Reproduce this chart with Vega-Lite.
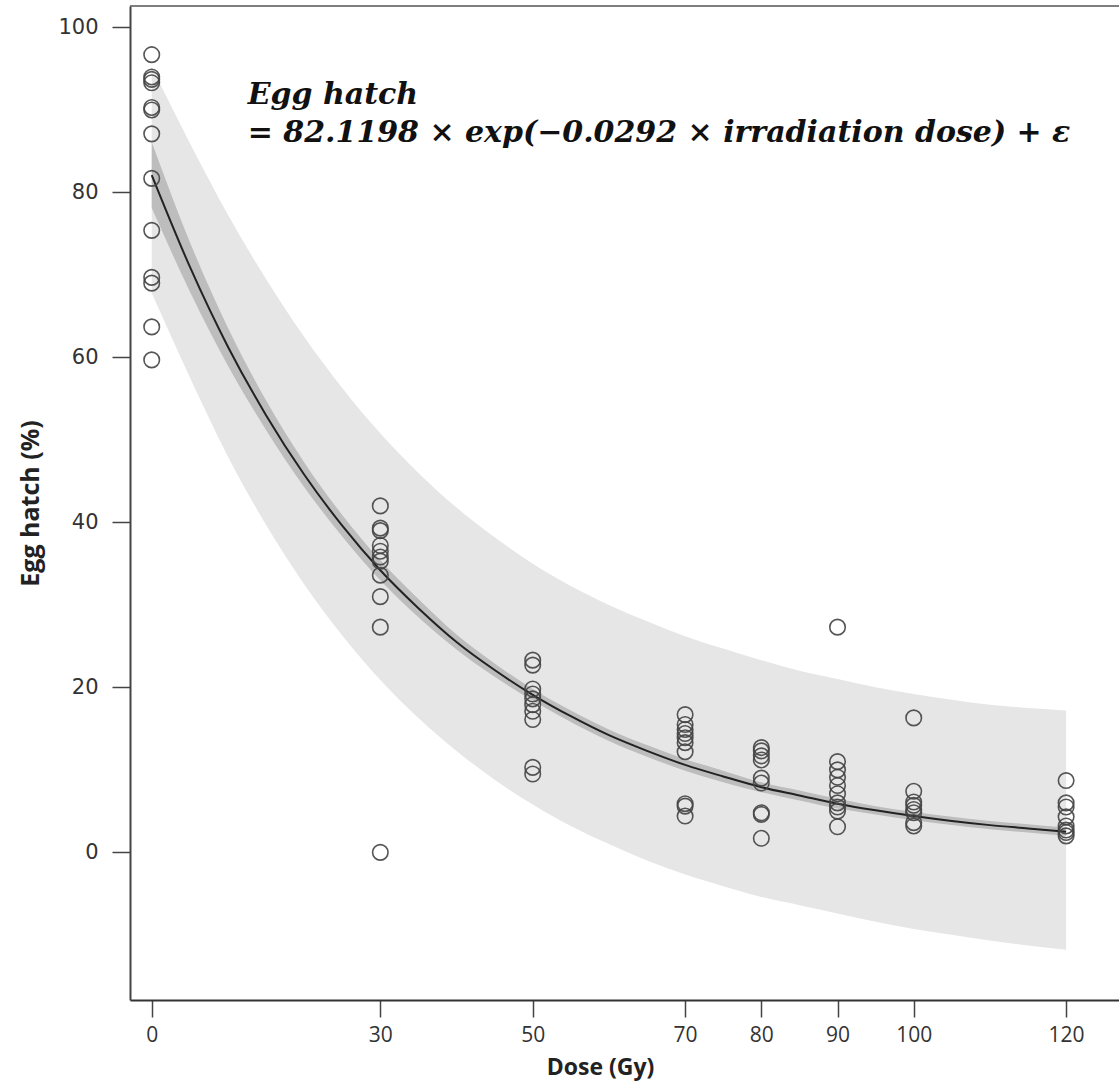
{
  "$schema": "https://vega.github.io/schema/vega-lite/v6.json",
  "width": 989,
  "height": 994,
  "autosize": {"type": "none"},
  "padding": {"left": 130, "top": 6, "right": 0, "bottom": 89},
  "background": "white",
  "config": {"view": {"stroke": null}},
  "datasets": {
    "curve": [
      {"dose": 0, "fit": 82.1, "plo": 67.8, "phi": 95.2, "clo": 78.1, "chi": 86.1},
      {"dose": 5, "fit": 71.0, "plo": 57.6, "phi": 86.0, "clo": 68.0, "chi": 74.0},
      {"dose": 10, "fit": 61.3, "plo": 48.0, "phi": 77.3, "clo": 59.0, "chi": 63.6},
      {"dose": 15, "fit": 53.0, "plo": 39.7, "phi": 69.5, "clo": 51.2, "chi": 54.8},
      {"dose": 20, "fit": 45.8, "plo": 32.5, "phi": 62.5, "clo": 44.3, "chi": 47.3},
      {"dose": 25, "fit": 39.6, "plo": 26.3, "phi": 56.3, "clo": 38.3, "chi": 40.9},
      {"dose": 30, "fit": 34.2, "plo": 20.9, "phi": 50.8, "clo": 33.0, "chi": 35.4},
      {"dose": 35, "fit": 29.6, "plo": 16.3, "phi": 46.0, "clo": 28.5, "chi": 30.7},
      {"dose": 40, "fit": 25.5, "plo": 12.3, "phi": 41.8, "clo": 24.6, "chi": 26.4},
      {"dose": 45, "fit": 22.1, "plo": 8.8, "phi": 38.2, "clo": 21.3, "chi": 22.9},
      {"dose": 50, "fit": 19.1, "plo": 5.8, "phi": 35.0, "clo": 18.4, "chi": 19.8},
      {"dose": 55, "fit": 16.5, "plo": 3.2, "phi": 32.3, "clo": 15.8, "chi": 17.2},
      {"dose": 60, "fit": 14.2, "plo": 1.0, "phi": 30.0, "clo": 13.5, "chi": 14.9},
      {"dose": 65, "fit": 12.3, "plo": -1.0, "phi": 28.0, "clo": 11.6, "chi": 13.0},
      {"dose": 70, "fit": 10.6, "plo": -2.7, "phi": 26.2, "clo": 9.9, "chi": 11.3},
      {"dose": 75, "fit": 9.2, "plo": -4.1, "phi": 24.7, "clo": 8.5, "chi": 9.9},
      {"dose": 80, "fit": 7.9, "plo": -5.4, "phi": 23.3, "clo": 7.3, "chi": 8.5},
      {"dose": 85, "fit": 6.9, "plo": -6.4, "phi": 22.0, "clo": 6.3, "chi": 7.5},
      {"dose": 90, "fit": 5.9, "plo": -7.4, "phi": 21.0, "clo": 5.3, "chi": 6.5},
      {"dose": 95, "fit": 5.1, "plo": -8.4, "phi": 20.0, "clo": 4.6, "chi": 5.6},
      {"dose": 100, "fit": 4.4, "plo": -9.3, "phi": 19.2, "clo": 3.9, "chi": 4.9},
      {"dose": 105, "fit": 3.8, "plo": -10.0, "phi": 18.5, "clo": 3.3, "chi": 4.3},
      {"dose": 110, "fit": 3.3, "plo": -10.7, "phi": 17.9, "clo": 2.8, "chi": 3.8},
      {"dose": 115, "fit": 2.9, "plo": -11.3, "phi": 17.5, "clo": 2.4, "chi": 3.4},
      {"dose": 120, "fit": 2.5, "plo": -11.8, "phi": 17.2, "clo": 2.0, "chi": 3.0}
    ],
    "obs": [
      {"dose": 0, "hatch": 96.7}, {"dose": 0, "hatch": 94.0}, {"dose": 0, "hatch": 93.7}, {"dose": 0, "hatch": 93.3},
      {"dose": 0, "hatch": 90.3}, {"dose": 0, "hatch": 90.0}, {"dose": 0, "hatch": 87.1}, {"dose": 0, "hatch": 81.7},
      {"dose": 0, "hatch": 75.4}, {"dose": 0, "hatch": 69.7}, {"dose": 0, "hatch": 69.0}, {"dose": 0, "hatch": 63.7},
      {"dose": 0, "hatch": 59.7},
      {"dose": 30, "hatch": 42.0}, {"dose": 30, "hatch": 39.3}, {"dose": 30, "hatch": 39.0}, {"dose": 30, "hatch": 37.2},
      {"dose": 30, "hatch": 36.5}, {"dose": 30, "hatch": 35.8}, {"dose": 30, "hatch": 35.3}, {"dose": 30, "hatch": 33.6},
      {"dose": 30, "hatch": 31.0}, {"dose": 30, "hatch": 27.3}, {"dose": 30, "hatch": 0.0},
      {"dose": 50, "hatch": 23.3}, {"dose": 50, "hatch": 22.7}, {"dose": 50, "hatch": 19.8}, {"dose": 50, "hatch": 19.2},
      {"dose": 50, "hatch": 18.6}, {"dose": 50, "hatch": 17.9}, {"dose": 50, "hatch": 17.1}, {"dose": 50, "hatch": 16.1},
      {"dose": 50, "hatch": 10.3}, {"dose": 50, "hatch": 9.5},
      {"dose": 70, "hatch": 16.7}, {"dose": 70, "hatch": 15.5}, {"dose": 70, "hatch": 14.9}, {"dose": 70, "hatch": 14.4},
      {"dose": 70, "hatch": 13.9}, {"dose": 70, "hatch": 13.3}, {"dose": 70, "hatch": 12.2}, {"dose": 70, "hatch": 5.9},
      {"dose": 70, "hatch": 5.6}, {"dose": 70, "hatch": 4.4},
      {"dose": 80, "hatch": 12.7}, {"dose": 80, "hatch": 12.3}, {"dose": 80, "hatch": 11.7}, {"dose": 80, "hatch": 11.2},
      {"dose": 80, "hatch": 9.0}, {"dose": 80, "hatch": 8.4}, {"dose": 80, "hatch": 4.8}, {"dose": 80, "hatch": 4.6},
      {"dose": 80, "hatch": 1.7},
      {"dose": 90, "hatch": 27.3}, {"dose": 90, "hatch": 11.0}, {"dose": 90, "hatch": 10.0}, {"dose": 90, "hatch": 9.1},
      {"dose": 90, "hatch": 8.1}, {"dose": 90, "hatch": 7.1}, {"dose": 90, "hatch": 6.0}, {"dose": 90, "hatch": 5.5},
      {"dose": 90, "hatch": 5.0}, {"dose": 90, "hatch": 3.1},
      {"dose": 100, "hatch": 16.3}, {"dose": 100, "hatch": 7.4}, {"dose": 100, "hatch": 6.1}, {"dose": 100, "hatch": 5.7},
      {"dose": 100, "hatch": 5.2}, {"dose": 100, "hatch": 4.8}, {"dose": 100, "hatch": 3.6}, {"dose": 100, "hatch": 3.2},
      {"dose": 120, "hatch": 8.7}, {"dose": 120, "hatch": 6.0}, {"dose": 120, "hatch": 5.5}, {"dose": 120, "hatch": 4.3},
      {"dose": 120, "hatch": 3.2}, {"dose": 120, "hatch": 2.7}, {"dose": 120, "hatch": 2.4}, {"dose": 120, "hatch": 2.0}
    ],
    "annot": [
      {"line": "Egg hatch", "ax": 12.6, "ay": 90.7},
      {"line": "= 82.1198 × exp(−0.0292 × irradiation dose) + ε", "ax": 12.6, "ay": 86.1}
    ]
  },
  "encoding": {
    "x": {
      "type": "quantitative",
      "scale": {"domain": [-2.85, 126.94], "nice": false, "zero": false},
      "axis": {
        "values": [0, 30, 50, 70, 80, 90, 100, 120],
        "title": "Dose (Gy)",
        "grid": false,
        "domainColor": "#333",
        "domainWidth": 2,
        "tickColor": "#444",
        "tickWidth": 1.5,
        "tickSize": 17,
        "labelFont": "Open Sans",
        "labelFontSize": 21,
        "labelColor": "#333",
        "labelPadding": 7,
        "titleFont": "Open Sans",
        "titleFontSize": 23,
        "titleFontWeight": "bold",
        "titleColor": "#222",
        "titleX": 470,
        "titleY": 67,
        "titleBaseline": "middle",
        "titleAlign": "center"
      }
    },
    "y": {
      "type": "quantitative",
      "scale": {"domain": [-17.9, 102.6], "nice": false, "zero": false},
      "axis": {
        "values": [0, 20, 40, 60, 80, 100],
        "title": "Egg hatch (%)",
        "grid": false,
        "domainColor": "#444",
        "domainWidth": 2,
        "tickColor": "#444",
        "tickWidth": 1.5,
        "tickSize": 18,
        "labelFont": "DejaVu Sans",
        "labelFontSize": 21,
        "labelColor": "#333",
        "labelPadding": 14,
        "titleFont": "Open Sans",
        "titleFontSize": 25,
        "titleFontWeight": "bold",
        "titleColor": "#222",
        "titleX": -100,
        "titleY": 497,
        "titleAngle": -90,
        "titleBaseline": "middle",
        "titleAlign": "center"
      }
    }
  },
  "layer": [
    {
      "data": {"name": "curve"},
      "mark": {"type": "area", "color": "#e6e6e6", "interpolate": "monotone"},
      "encoding": {
        "x": {"field": "dose"},
        "y": {"field": "plo"},
        "y2": {"field": "phi"}
      }
    },
    {
      "data": {"name": "curve"},
      "mark": {"type": "area", "color": "#bdbdbd", "interpolate": "monotone"},
      "encoding": {
        "x": {"field": "dose"},
        "y": {"field": "clo"},
        "y2": {"field": "chi"}
      }
    },
    {
      "data": {"name": "curve"},
      "mark": {"type": "line", "color": "#222", "strokeWidth": 2, "interpolate": "monotone"},
      "encoding": {
        "x": {"field": "dose"},
        "y": {"field": "fit"}
      }
    },
    {
      "data": {"name": "obs"},
      "mark": {"type": "point", "shape": "circle", "filled": false, "stroke": "#444", "strokeWidth": 1.6, "size": 240, "opacity": 0.9},
      "encoding": {
        "x": {"field": "dose"},
        "y": {"field": "hatch"}
      }
    },
    {
      "data": {"values": [{"top": 102.6}]},
      "mark": {"type": "rule", "color": "#555", "strokeWidth": 1.5},
      "encoding": {
        "y": {"field": "top"}
      }
    },
    {
      "data": {"name": "annot"},
      "mark": {"type": "text", "font": "DejaVu Serif", "fontSize": 30, "fontWeight": "bold", "fontStyle": "italic", "color": "#111", "align": "left", "baseline": "alphabetic"},
      "encoding": {
        "x": {"field": "ax"},
        "y": {"field": "ay"},
        "text": {"field": "line"}
      }
    }
  ]
}
